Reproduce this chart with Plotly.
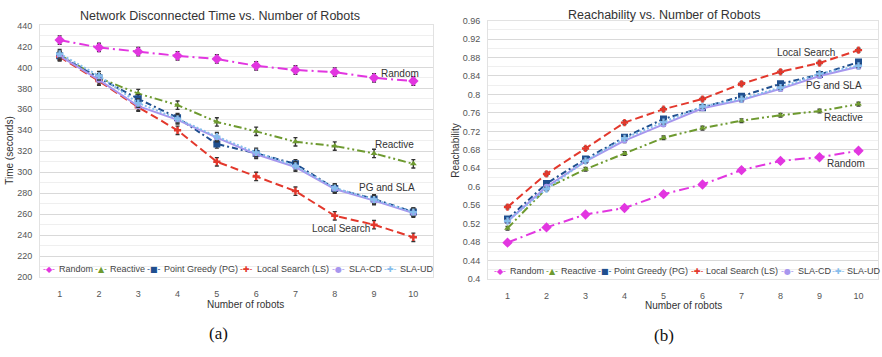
import plotly.graph_objects as go

W, H = 882, 357
robots = [1, 2, 3, 4, 5, 6, 7, 8, 9, 10]
series_names = ["Random", "Reactive", "Point Greedy (PG)", "Local Search (LS)", "SLA-CD", "SLA-UD"]

# (a) Network disconnected time (seconds)
time_random = [426, 419, 415, 411, 408, 401.5, 397.5, 395.5, 390, 387]
time_reactive = [412, 390, 375, 364, 348, 339, 329, 325, 318, 308]
time_pg = [411, 390, 370, 352, 327, 318, 308, 284.5, 274.5, 262]
time_ls = [410, 387, 362, 340, 310, 296, 282, 258.5, 250, 238]
time_slacd = [411, 388, 363, 350, 333, 317, 305, 284, 273, 261]
time_slaud = [413, 392, 366, 351, 334, 319, 306, 285, 274, 262]
time_err = [4, 4, 4, 4, 4, 4, 4, 4, 4, 4]

# (b) Reachability
reach_random = [0.479, 0.512, 0.540, 0.554, 0.584, 0.605, 0.636, 0.656, 0.664, 0.678]
reach_reactive = [0.510, 0.597, 0.638, 0.672, 0.706, 0.727, 0.743, 0.755, 0.764, 0.779]
reach_pg = [0.530, 0.607, 0.660, 0.707, 0.747, 0.771, 0.796, 0.823, 0.843, 0.870]
reach_ls = [0.556, 0.628, 0.683, 0.739, 0.768, 0.790, 0.823, 0.849, 0.868, 0.896]
reach_slacd = [0.525, 0.600, 0.655, 0.700, 0.735, 0.770, 0.788, 0.812, 0.840, 0.860]
reach_slaud = [0.526, 0.595, 0.656, 0.705, 0.740, 0.774, 0.790, 0.815, 0.845, 0.862]
reach_err = [0.004, 0.004, 0.004, 0.004, 0.004, 0.004, 0.004, 0.004, 0.004, 0.004]

colors = ["#e236e0", "#6e9a30", "#1f4f8f", "#e3382c", "#a796ee", "#86bdec"]
dashes = ["10px,4px,2px,4px", "8px,3px,2px,3px,2px,3px", "6px,3px,2px,3px", "8px,4px", "solid", "2px,2px"]
symbols = ["diamond", "triangle-up", "square", "cross", "circle", "cross"]
msizes = [8, 6, 7, 6, 6, 6]
legend_glyphs = ["◆", "▲", "■", "✚", "●", "✚"]

left_data = [time_random, time_reactive, time_pg, time_ls, time_slacd, time_slaud]
right_data = [reach_random, reach_reactive, reach_pg, reach_ls, reach_slacd, reach_slaud]

fig = go.Figure()
for i, name in enumerate(series_names):
    fig.add_trace(go.Scatter(
        x=robots, y=left_data[i], name=name, mode="lines+markers",
        line=dict(color=colors[i], width=2, dash=dashes[i]),
        marker=dict(symbol=symbols[i], size=msizes[i], color=colors[i]),
        error_y=dict(type="data", array=time_err, color="#333333", thickness=1.4, width=2),
        xaxis="x", yaxis="y", showlegend=False))
for i, name in enumerate(series_names):
    fig.add_trace(go.Scatter(
        x=robots, y=right_data[i], name=name, mode="lines+markers",
        line=dict(color=colors[i], width=2, dash=dashes[i]),
        marker=dict(symbol=symbols[i], size=msizes[i], color=colors[i]),
        error_y=dict(type="data", array=reach_err, color="#333333", thickness=1.4, width=2),
        xaxis="x2", yaxis="y2", showlegend=False))

def px(x):
    return x / W

def py(y):
    return 1 - y / H

axis_common = dict(showline=True, linecolor="#e2e2e2", mirror=True, zeroline=False)
tickfont = dict(family="Liberation Sans, Arial", size=9, color="#555555")

fig.update_layout(
    width=W, height=H, margin=dict(l=0, r=0, t=0, b=0),
    paper_bgcolor="white", plot_bgcolor="white",
    xaxis=dict(domain=[px(40), px(433)], range=[0.5, 10.5], tickvals=robots,
               showgrid=False, ticks="outside", ticklen=8, tickcolor="rgba(0,0,0,0)",
               tickfont=tickfont, anchor="y", **axis_common),
    yaxis=dict(domain=[py(280), py(21)], range=[200, 440], dtick=20,
               gridcolor="#d9d9d9", gridwidth=1, tickfont=tickfont, ticks="outside",
               ticklen=5, tickcolor="rgba(0,0,0,0)",
               minor=dict(dtick=10, showgrid=True, gridcolor="#efefef"),
               anchor="x", **axis_common),
    xaxis2=dict(domain=[px(488), px(878)], range=[0.5, 10.5], tickvals=robots,
                showgrid=False, ticks="outside", ticklen=8, tickcolor="rgba(0,0,0,0)",
                tickfont=tickfont, anchor="y2", **axis_common),
    yaxis2=dict(domain=[py(282), py(16)], range=[0.4, 0.96], dtick=0.04,
                tickvals=[0.4, 0.44, 0.48, 0.52, 0.56, 0.6, 0.64, 0.68, 0.72, 0.76, 0.8, 0.84, 0.88, 0.92, 0.96],
                ticktext=["0.4", "0.44", "0.48", "0.52", "0.56", "0.6", "0.64", "0.68", "0.72", "0.76", "0.8", "0.84", "0.88", "0.92", "0.96"],
                gridcolor="#d9d9d9", gridwidth=1, tickfont=tickfont, ticks="outside",
                ticklen=5, tickcolor="rgba(0,0,0,0)",
                minor=dict(tickvals=[0.42, 0.46, 0.5, 0.54, 0.58, 0.62, 0.66, 0.7, 0.74, 0.78, 0.82, 0.86, 0.9, 0.94],
                           showgrid=True, gridcolor="#efefef"),
                anchor="x2", **axis_common),
)

sans = "Liberation Sans, Arial"
ann = []

def text(x, y, s, size, color="#333333", family=sans, xanchor="center", angle=0):
    ann.append(dict(x=px(x), y=py(y), xref="paper", yref="paper", text=s, showarrow=False,
                    xanchor=xanchor, yanchor="middle", textangle=angle,
                    font=dict(family=family, size=size, color=color)))

# Titles
text(220, 11, "Network Disconnected Time vs. Number of Robots", 12.5)
text(664, 10, "Reachability vs. Number of Robots", 12.5)
# Axis titles
text(245, 308, "Number of robots", 10)
text(683.5, 309, "Number of robots", 10)
text(10, 150, "Time (seconds)", 10, angle=-90)
text(456, 150, "Reachability", 10, angle=-90)
# Sub-captions
text(218, 338, "(a)", 17, color="#111111", family="Liberation Serif, Times New Roman")
text(664, 340, "(b)", 17, color="#111111", family="Liberation Serif, Times New Roman")
# In-plot labels
text(400, 70, "Random", 10)
text(394, 144, "Reactive", 10)
text(387, 188, "PG and SLA", 10)
text(341, 230, "Local Search", 10)
text(806, 49, "Local Search", 10)
text(834, 83, "PG and SLA", 10)
text(843, 116, "Reactive", 10)
text(846, 163, "Random", 10)

# Legends (drawn as text rows)
left_sym_x = [49, 101, 153.5, 246.5, 338.5, 390]
left_lab_x = [57, 108, 162, 255, 347, 398]
right_sym_x = [500, 551.5, 604, 697, 787.5, 838]
right_lab_x = [508, 559, 612, 704, 796, 845]
for i, name in enumerate(series_names):
    sym = f"<span style='color:{colors[i]}'>-{legend_glyphs[i]}-</span>"
    text(left_sym_x[i], 272, sym, 8, color=colors[i], family="DejaVu Sans")
    text(left_lab_x[i], 272, name, 9, color="#444444", xanchor="left")
    text(right_sym_x[i], 274, sym, 8, color=colors[i], family="DejaVu Sans")
    text(right_lab_x[i], 274, name, 9, color="#444444", xanchor="left")

fig.update_layout(annotations=ann)
fig.write_html("out.html")
